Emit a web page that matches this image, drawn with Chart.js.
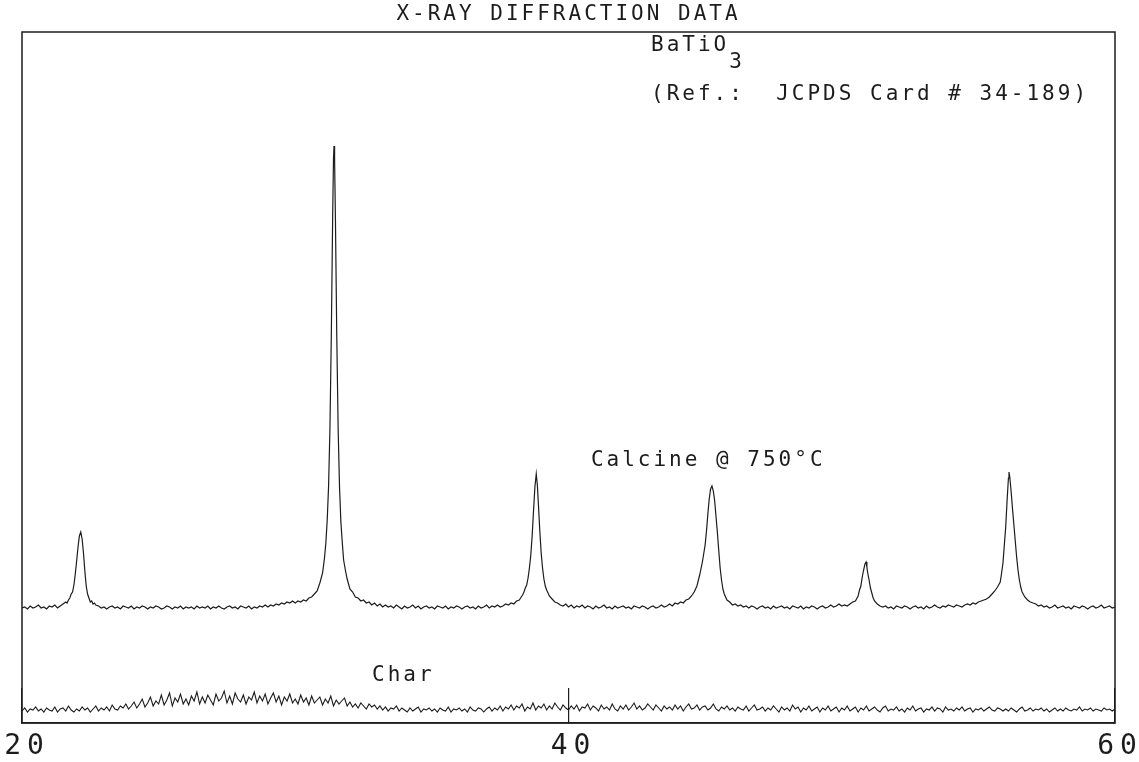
<!DOCTYPE html>
<html>
<head>
<meta charset="utf-8">
<script src="https://cdn.jsdelivr.net/npm/chart.js"></script>
<style>
  html, body { margin: 0; padding: 0; background: #ffffff; }
  #wrap { width: 1139px; height: 762px; }
  canvas { display: block; }
</style>
</head>
<body>
<div id="wrap"><canvas id="xrd" width="1139" height="762"></canvas></div>
<script>
// ---------------- data (2-theta in degrees, intensity in arbitrary units) ----------------
const chartTitle = "X-RAY DIFFRACTION DATA";
const xTickValues = [20, 40, 60];
const seriesNames = ["Calcine @ 750°C", "Char"];

const calcined = [
[20.0,115],[20.1,116],[20.2,114],[20.3,117],[20.4,115],[20.5,116],[20.6,118],[20.7,115],[20.8,116],[20.9,114],
[21.0,117],[21.1,116],[21.2,118],[21.3,115],[21.4,117],[21.5,119],
[21.6,121],[21.65,120],[21.7,123],[21.75,125],[21.8,129],[21.85,131],[21.9,138],[21.95,149],[22.0,162],[22.05,176],[22.1,187],[22.15,191],[22.2,184],[22.25,170],[22.3,152],[22.35,137],[22.4,129],[22.45,125],[22.5,121],[22.55,122],[22.6,119],[22.65,120],[22.7,118],
[22.8,117],[22.9,115],[23.0,116],[23.1,114],[23.2,116],[23.3,117],[23.4,115],[23.5,116],[23.6,114],[23.7,117],[23.8,116],[23.9,115],
[24.0,117],[24.1,114],[24.2,116],[24.3,115],[24.4,117],[24.5,116],[24.6,114],[24.7,116],[24.8,115],[24.9,117],
[25.0,116],[25.1,114],[25.2,115],[25.3,117],[25.4,116],[25.5,114],[25.6,116],[25.7,115],[25.8,117],[25.9,114],
[26.0,116],[26.1,115],[26.2,116],[26.3,114],[26.4,117],[26.5,115],[26.6,116],[26.7,115],[26.8,117],[26.9,114],
[27.0,116],[27.1,115],[27.2,117],[27.3,115],[27.4,114],[27.5,116],[27.6,117],[27.7,115],[27.8,116],[27.9,114],
[28.0,117],[28.1,116],[28.2,115],[28.3,117],[28.4,114],[28.5,116],[28.6,115],[28.7,117],[28.8,116],[28.9,118],
[29.0,116],[29.1,118],[29.2,117],[29.3,119],[29.4,118],[29.5,120],[29.6,119],[29.7,121],[29.8,120],[29.9,122],
[30.0,120],[30.1,122],[30.2,121],[30.3,123],[30.4,122],[30.5,125],[30.6,126],[30.7,129],[30.8,132],[30.9,140],
[31.0,150],[31.07,165],[31.12,180],[31.17,203],[31.22,237],[31.27,295],[31.32,388],[31.37,508],[31.4,565],[31.42,577],[31.44,563],[31.47,505],[31.52,386],[31.57,294],[31.62,236],[31.67,201],[31.72,181],[31.77,163],[31.84,152],[31.9,144],
[32.0,134],[32.1,131],[32.2,126],[32.3,125],[32.4,122],[32.5,123],[32.6,120],[32.7,121],[32.8,118],[32.9,120],
[33.0,117],[33.1,119],[33.2,116],[33.3,118],[33.4,116],[33.5,117],[33.6,115],[33.7,118],[33.8,116],[33.9,114],
[34.0,117],[34.1,115],[34.2,116],[34.3,118],[34.4,115],[34.5,117],[34.6,114],[34.7,116],[34.8,117],[34.9,115],
[35.0,116],[35.1,114],[35.2,117],[35.3,116],[35.4,115],[35.5,117],[35.6,114],[35.7,116],[35.8,115],[35.9,117],
[36.0,116],[36.1,114],[36.2,116],[36.3,117],[36.4,115],[36.5,116],[36.6,114],[36.7,117],[36.8,115],[36.9,116],
[37.0,118],[37.1,115],[37.2,117],[37.3,116],[37.4,118],[37.5,116],[37.6,117],[37.7,119],[37.8,118],[37.9,120],
[38.0,119],[38.1,122],[38.2,123],[38.27,126],[38.32,128],[38.37,131],[38.42,135],[38.47,138],[38.52,145],[38.57,155],[38.62,168],[38.67,187],[38.72,212],[38.77,236],[38.82,249],[38.86,238],[38.9,218],[38.95,192],
[39.0,170],[39.05,155],[39.1,144],[39.15,137],[39.2,133],[39.3,127],[39.4,124],[39.5,121],[39.6,120],[39.7,118],[39.8,117],[39.9,119],
[40.0,116],[40.1,118],[40.2,115],[40.3,117],[40.4,116],[40.5,118],[40.6,115],[40.7,117],[40.8,116],[40.9,114],
[41.0,117],[41.1,115],[41.2,116],[41.3,118],[41.4,115],[41.5,116],[41.6,114],[41.7,117],[41.8,115],[41.9,116],
[42.0,117],[42.1,115],[42.2,116],[42.3,114],[42.4,117],[42.5,116],[42.6,115],[42.7,117],[42.8,116],[42.9,114],
[43.0,116],[43.1,117],[43.2,115],[43.3,116],[43.4,118],[43.5,116],[43.6,117],[43.7,119],[43.8,117],[43.9,120],
[44.0,119],[44.1,121],[44.2,120],[44.3,123],[44.4,124],[44.5,127],[44.6,131],[44.7,137],[44.8,148],[44.9,161],
[45.0,178],[45.05,192],[45.1,209],[45.15,224],[45.2,234],[45.25,237],[45.3,232],[45.35,222],[45.4,206],[45.45,190],[45.5,172],[45.55,155],[45.6,143],[45.65,134],[45.7,129],[45.8,123],[45.9,121],
[46.0,118],[46.1,119],[46.2,117],[46.3,118],[46.4,116],[46.5,117],[46.6,115],[46.7,117],[46.8,116],[46.9,114],
[47.0,116],[47.1,117],[47.2,115],[47.3,116],[47.4,114],[47.5,117],[47.6,115],[47.7,116],[47.8,117],[47.9,115],
[48.0,116],[48.1,114],[48.2,117],[48.3,116],[48.4,115],[48.5,117],[48.6,114],[48.7,116],[48.8,115],[48.9,117],
[49.0,116],[49.1,114],[49.2,116],[49.3,117],[49.4,115],[49.5,116],[49.6,118],[49.7,116],[49.8,117],[49.9,119],
[50.0,117],[50.1,118],[50.2,117],[50.3,119],[50.4,121],[50.5,122],[50.6,127],[50.65,133],[50.7,137],[50.75,146],[50.8,153],[50.85,159],[50.89,161],[50.92,156],[50.95,150],
[51.0,143],[51.05,135],[51.1,130],[51.15,125],[51.2,122],[51.3,119],[51.4,117],[51.5,116],[51.6,117],[51.7,115],[51.8,116],[51.9,114],
[52.0,117],[52.1,116],[52.2,115],[52.3,117],[52.4,116],[52.5,114],[52.6,116],[52.7,117],[52.8,115],[52.9,116],
[53.0,114],[53.1,117],[53.2,115],[53.3,116],[53.4,118],[53.5,116],[53.6,115],[53.7,117],[53.8,116],[53.9,118],
[54.0,117],[54.1,116],[54.2,118],[54.3,117],[54.4,116],[54.5,118],[54.6,119],[54.7,118],[54.8,120],[54.9,119],
[55.0,121],[55.1,122],[55.2,123],[55.3,124],[55.4,126],[55.5,129],[55.6,132],[55.7,136],[55.8,141],[55.85,150],[55.9,160],[55.95,178],
[56.0,196],[56.05,222],[56.1,245],[56.12,251],[56.15,246],[56.2,231],[56.25,214],[56.3,198],[56.35,182],[56.4,166],[56.45,153],[56.5,143],[56.55,136],[56.6,131],[56.7,126],[56.8,123],[56.9,121],
[57.0,120],[57.1,119],[57.2,117],[57.3,118],[57.4,116],[57.5,117],[57.6,115],[57.7,116],[57.8,118],[57.9,115],
[58.0,116],[58.1,117],[58.2,115],[58.3,116],[58.4,114],[58.5,117],[58.6,116],[58.7,115],[58.8,117],[58.9,116],
[59.0,114],[59.1,116],[59.2,117],[59.3,115],[59.4,116],[59.5,118],[59.6,115],[59.7,116],[59.8,117],[59.9,115],
[60.0,116]
];

const charred = [
[20.0,12],[20.1,15],[20.2,11],[20.3,14],[20.4,13],[20.5,16],[20.6,12],[20.7,14],[20.8,11],[20.9,15],
[21.0,13],[21.1,12],[21.2,16],[21.3,11],[21.4,14],[21.5,15],[21.6,12],[21.7,17],[21.8,13],[21.9,11],
[22.0,14],[22.1,12],[22.2,16],[22.3,13],[22.4,15],[22.5,11],[22.6,14],[22.7,17],[22.8,12],[22.9,15],
[23.0,13],[23.1,16],[23.2,12],[23.3,18],[23.4,14],[23.5,13],[23.6,17],[23.7,15],[23.8,19],[23.9,14],
[24.0,17],[24.1,21],[24.2,15],[24.3,19],[24.4,24],[24.5,16],[24.6,20],[24.7,26],[24.8,17],[24.9,22],
[25.0,19],[25.1,28],[25.2,18],[25.3,23],[25.4,30],[25.5,17],[25.6,25],[25.7,21],[25.8,29],[25.9,19],
[26.0,24],[26.1,18],[26.2,27],[26.3,22],[26.4,31],[26.5,19],[26.6,26],[26.7,20],[26.8,28],[26.9,23],
[27.0,18],[27.1,29],[27.2,22],[27.3,25],[27.4,32],[27.5,20],[27.6,27],[27.7,19],[27.8,30],[27.9,24],
[28.0,21],[28.1,28],[28.2,19],[28.3,26],[28.4,23],[28.5,31],[28.6,20],[28.7,27],[28.8,22],[28.9,29],
[29.0,19],[29.1,25],[29.2,30],[29.3,21],[29.4,27],[29.5,18],[29.6,26],[29.7,22],[29.8,29],[29.9,20],
[30.0,24],[30.1,19],[30.2,28],[30.3,21],[30.4,25],[30.5,18],[30.6,27],[30.7,20],[30.8,23],[30.9,26],
[31.0,18],[31.1,24],[31.2,20],[31.3,27],[31.4,17],[31.5,23],[31.6,19],[31.7,22],[31.8,25],[31.9,17],
[32.0,21],[32.1,16],[32.2,19],[32.3,15],[32.4,20],[32.5,17],[32.6,14],[32.7,19],[32.8,16],[32.9,18],
[33.0,14],[33.1,17],[33.2,13],[33.3,16],[33.4,12],[33.5,15],[33.6,14],[33.7,17],[33.8,12],[33.9,15],
[34.0,13],[34.1,11],[34.2,15],[34.3,12],[34.4,14],[34.5,16],[34.6,11],[34.7,14],[34.8,13],[34.9,15],
[35.0,12],[35.1,14],[35.2,11],[35.3,15],[35.4,13],[35.5,12],[35.6,16],[35.7,11],[35.8,14],[35.9,13],
[36.0,15],[36.1,12],[36.2,14],[36.3,11],[36.4,16],[36.5,13],[36.6,12],[36.7,15],[36.8,14],[36.9,11],
[37.0,14],[37.1,16],[37.2,12],[37.3,15],[37.4,13],[37.5,17],[37.6,12],[37.7,16],[37.8,14],[37.9,18],
[38.0,13],[38.1,17],[38.2,15],[38.3,19],[38.4,12],[38.5,16],[38.6,14],[38.7,20],[38.8,13],[38.9,17],
[39.0,15],[39.1,19],[39.2,13],[39.3,17],[39.4,14],[39.5,20],[39.6,16],[39.7,13],[39.8,18],[39.9,15],
[40.0,13],[40.1,17],[40.2,14],[40.3,18],[40.4,12],[40.5,16],[40.6,15],[40.7,19],[40.8,13],[40.9,17],
[41.0,15],[41.1,12],[41.2,18],[41.3,14],[41.4,16],[41.5,13],[41.6,19],[41.7,14],[41.8,12],[41.9,17],
[42.0,14],[42.1,18],[42.2,13],[42.3,16],[42.4,20],[42.5,14],[42.6,17],[42.7,13],[42.8,15],[42.9,19],
[43.0,16],[43.1,13],[43.2,18],[43.3,15],[43.4,12],[43.5,17],[43.6,14],[43.7,16],[43.8,13],[43.9,18],
[44.0,14],[44.1,17],[44.2,12],[44.3,16],[44.4,19],[44.5,14],[44.6,15],[44.7,18],[44.8,13],[44.9,16],
[45.0,17],[45.1,13],[45.2,15],[45.3,19],[45.4,14],[45.5,12],[45.6,16],[45.7,14],[45.8,17],[45.9,13],
[46.0,15],[46.1,12],[46.2,16],[46.3,14],[46.4,13],[46.5,17],[46.6,12],[46.7,15],[46.8,18],[46.9,13],
[47.0,14],[47.1,16],[47.2,12],[47.3,15],[47.4,13],[47.5,17],[47.6,14],[47.7,11],[47.8,16],[47.9,13],
[48.0,15],[48.1,12],[48.2,18],[48.3,14],[48.4,16],[48.5,11],[48.6,15],[48.7,13],[48.8,17],[48.9,12],
[49.0,14],[49.1,16],[49.2,11],[49.3,15],[49.4,13],[49.5,17],[49.6,12],[49.7,14],[49.8,16],[49.9,11],
[50.0,15],[50.1,13],[50.2,17],[50.3,12],[50.4,14],[50.5,16],[50.6,11],[50.7,15],[50.8,13],[50.9,17],
[51.0,12],[51.1,14],[51.2,16],[51.3,13],[51.4,11],[51.5,15],[51.6,17],[51.7,12],[51.8,14],[51.9,13],
[52.0,16],[52.1,12],[52.2,14],[52.3,11],[52.4,15],[52.5,13],[52.6,17],[52.7,12],[52.8,14],[52.9,15],
[53.0,11],[53.1,14],[53.2,13],[53.3,16],[53.4,12],[53.5,15],[53.6,14],[53.7,11],[53.8,16],[53.9,13],
[54.0,14],[54.1,12],[54.2,15],[54.3,13],[54.4,16],[54.5,12],[54.6,14],[54.7,15],[54.8,11],[54.9,14],
[55.0,13],[55.1,15],[55.2,12],[55.3,14],[55.4,16],[55.5,13],[55.6,12],[55.7,15],[55.8,14],[55.9,12],
[56.0,14],[56.1,12],[56.2,15],[56.3,13],[56.4,11],[56.5,14],[56.6,16],[56.7,12],[56.8,13],[56.9,15],
[57.0,12],[57.1,14],[57.2,13],[57.3,15],[57.4,12],[57.5,14],[57.6,11],[57.7,13],[57.8,15],[57.9,12],
[58.0,14],[58.1,12],[58.2,15],[58.3,13],[58.4,12],[58.5,14],[58.6,13],[58.7,16],[58.8,12],[58.9,14],
[59.0,13],[59.1,15],[59.2,12],[59.3,14],[59.4,13],[59.5,12],[59.6,15],[59.7,13],[59.8,14],[59.9,12],
[60.0,14]
];

// ---------------- styling / layout ----------------
const INK = '#1c1c1c';
const FONT = "'DejaVu Sans Mono', 'Liberation Mono', monospace";
const SPACING = '3px';
const TICK_SPACING = '6px';

const annotations = [
  { text: 'BaTiO', sub: '3', x: 43.02, y: 677 },
  { text: '(Ref.:  JCPDS Card # 34-189)', x: 43.02, y: 628 },
  { text: seriesNames[0], x: 40.82, y: 262 },
  { text: seriesNames[1], x: 32.81, y: 47 }
];

function setSpacing(chart) {
  if (chart.ctx) chart.ctx.letterSpacing = SPACING;
}

const plotterPlugin = {
  id: 'plotter',
  beforeInit: setSpacing,
  beforeUpdate: setSpacing,
  beforeLayout: setSpacing,
  beforeDraw: setSpacing,
  afterLayout(chart) {
    const s = chart.scales.x;
    if (s && !s._plotterWrapped) {
      const orig = s.drawLabels.bind(s);
      s.drawLabels = function (area) {
        const c = this.ctx;
        const prev = c.letterSpacing;
        c.letterSpacing = TICK_SPACING;
        orig(area);
        c.letterSpacing = prev;
      };
      s._plotterWrapped = true;
    }
  },
  afterDatasetsDraw(chart) {
    const ctx = chart.ctx;
    const a = chart.chartArea;
    const xs = chart.scales.x, ys = chart.scales.y;
    ctx.save();
    ctx.letterSpacing = SPACING;
    // frame
    ctx.strokeStyle = INK;
    ctx.lineWidth = 1.5;
    ctx.strokeRect(a.left, a.top, a.right - a.left, a.bottom - a.top);
    // annotations
    ctx.fillStyle = INK;
    ctx.font = "21px " + FONT;
    ctx.textAlign = 'left';
    ctx.textBaseline = 'middle';
    annotations.forEach(an => {
      const px = xs.getPixelForValue(an.x);
      const py = ys.getPixelForValue(an.y);
      ctx.fillText(an.text, px, py);
      if (an.sub) {
        const w = ctx.measureText(an.text).width;
        ctx.fillText(an.sub, px + w, py + 17);
      }
    });
    ctx.restore();
  }
};

new Chart(document.getElementById('xrd'), {
  type: 'line',
  data: {
    datasets: [
      { label: seriesNames[0], data: calcined, borderColor: INK, borderWidth: 1.2, pointRadius: 0, tension: 0, fill: false },
      { label: seriesNames[1], data: charred, borderColor: INK, borderWidth: 1.1, pointRadius: 0, tension: 0, fill: false }
    ]
  },
  options: {
    responsive: false,
    animation: false,
    devicePixelRatio: 1,
    layout: { padding: { left: 22, right: 24, top: 0, bottom: 0 } },
    plugins: {
      legend: { display: false },
      tooltip: { enabled: false },
      title: {
        display: true,
        text: chartTitle,
        color: INK,
        font: { family: FONT, size: 21, weight: 'normal', lineHeight: 1.2 },
        padding: { top: 2, bottom: 4.8 }
      }
    },
    scales: {
      x: {
        type: 'linear',
        min: 20,
        max: 60,
        afterBuildTicks: (scale) => { scale.ticks = xTickValues.map(v => ({ value: v })); },
        afterFit: (scale) => { scale.height = 39; scale.paddingLeft = 0; scale.paddingRight = 0; },
        grid: {
          display: true,
          drawOnChartArea: false,
          drawTicks: true,
          tickLength: -35,
          color: INK,
          lineWidth: 1.2
        },
        border: { display: true, color: INK, width: 1.5 },
        ticks: {
          color: INK,
          padding: 42,
          labelOffset: 5,
          maxRotation: 0,
          autoSkip: false,
          font: { family: FONT, size: 28, weight: 'normal', lineHeight: 1.2 },
          callback: (v) => String(v)
        }
      },
      y: {
        type: 'linear',
        display: false,
        min: 0,
        max: 691
      }
    }
  },
  plugins: [plotterPlugin]
});
</script>
</body>
</html>
